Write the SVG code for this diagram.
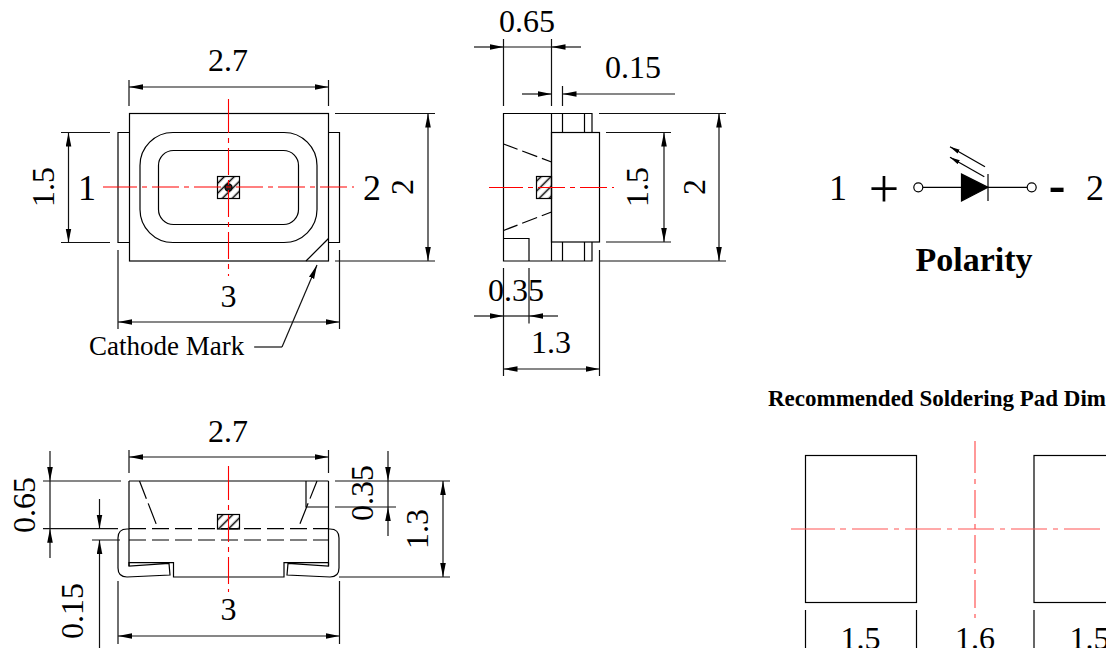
<svg xmlns="http://www.w3.org/2000/svg" width="1106" height="648" viewBox="0 0 1106 648">
<style>
text{font-family:"Liberation Serif","Times New Roman",serif;fill:#000}
.d{font-size:32px;text-anchor:middle}
.n{font-size:36px;text-anchor:middle}
.b{font-weight:bold;text-anchor:middle}
line,path,rect,circle{fill:none;stroke:#000;stroke-width:1.2}
.dim line,.dim path{stroke:#111;stroke-width:1.2}
.a{marker-end:url(#ar)}
.s{marker-end:url(#sm)}
.ds{stroke-dasharray:17 6}
.r{stroke:#f00;stroke-width:1.1;stroke-dasharray:34 5 5 5 27 5 5 5 27 5 5 5 27 5 5 5 27 5 5 5 27 5 5 5 27 5 5 5}
.rp{stroke:#f55;stroke-width:1.2;stroke-dasharray:44 5 6 6 36 6 5 6 36 6 5 6 36 6 5 6 36 6 5 6 36 6 5 6 36 6 5 6}
.h{fill:url(#hat)}
.head{fill:#000;stroke:none}
.hl{stroke-width:1.5}
</style>
<defs>
<pattern id="hat" patternUnits="userSpaceOnUse" width="7" height="7" patternTransform="rotate(-45)"><line class="hl" x1="0" y1="3.5" x2="7" y2="3.5"/></pattern>
<marker id="ar" markerUnits="userSpaceOnUse" markerWidth="15" markerHeight="7" refX="14" refY="3" orient="auto"><path class="head" d="M0 0.2L14 3L0 5.8Z"/></marker>
<marker id="sm" markerUnits="userSpaceOnUse" markerWidth="11" markerHeight="7" refX="10" refY="3" orient="auto"><path class="head" d="M0 0.8L10 3L0 5.2Z"/></marker>
</defs>

<g id="top-view">
<rect x="129.5" y="113.5" width="199" height="147.5"/>
<path d="M129 132.5H118V242.5H129M328.5 132.5H339.5V242.5H328.5"/>
<rect x="140" y="132.5" width="177" height="110" rx="33"/>
<rect x="158.5" y="150.5" width="140" height="74" rx="15"/>
<rect class="h" x="217.5" y="176.5" width="22" height="22"/>
<circle cx="228.5" cy="187.5" r="3.6" style="fill:#222"/>
<line x1="306" y1="261" x2="328.5" y2="238.5"/>
<line class="r" x1="103" y1="187" x2="354" y2="187"/>
<line class="r" x1="228.5" y1="99" x2="228.5" y2="276"/>
<text class="n" x="87" y="200">1</text>
<text class="n" x="372" y="200">2</text>
<text class="d" x="228.5" y="307">3</text>
<text x="89" y="355" style="font-size:27px">Cathode Mark</text>
</g>

<g id="side-view">
<path d="M551.5 113.5H503.5V261H592V242M592 132V113.5H551.5V261"/>
<rect x="551.5" y="132.5" width="48" height="109.5"/>
<path d="M562.5 113.5V132M584.5 113.5V132M562.5 242V261M584.5 242V261M503.5 238.5H529V261"/>
<line x1="503.5" y1="144" x2="551.5" y2="162" stroke-dasharray="15 5 16 5 12 6"/>
<line x1="503.5" y1="230.5" x2="551.5" y2="212" stroke-dasharray="15 5 16 5 12 6"/>
<rect class="h" x="536.5" y="176.5" width="15" height="22"/>
<line class="r" x1="489" y1="187.5" x2="614" y2="187.5"/>
</g>

<g id="bottom-view">
<path d="M129 481H328.5M129 481V566M328.5 481V566"/>
<path d="M129 529H127Q118 529 118 538V568Q118 577 127 577L170 575L169 563.5L129 566V562.7H173.5V577H284V562.7H328.5V566L288 563.5L287 575L330 577Q339 577 339 568V538Q339 529 330 529H328.5"/>
<path d="M306 481V507H328.5"/>
<line class="ds" x1="129" y1="528.7" x2="328" y2="528.7"/>
<line class="ds" x1="129" y1="540" x2="328" y2="540"/>
<line x1="139.5" y1="481" x2="158" y2="528.7" stroke-dasharray="19 5 22"/>
<line x1="317" y1="481" x2="298" y2="528.7" stroke-dasharray="19 5 22"/>
<rect class="h" x="217.5" y="514.5" width="22" height="14.5"/>
<line class="r" x1="228.5" y1="466" x2="228.5" y2="592"/>
</g>

<g id="polarity">
<text class="n" x="838" y="200">1</text>
<text x="884" y="207" style="font-size:54px;text-anchor:middle">+</text>
<circle cx="918.3" cy="187.3" r="4.5"/>
<line x1="923" y1="187.3" x2="1027" y2="187.3"/>
<path d="M961.5 174L961.5 201L988 187.3Z" style="fill:#000"/>
<line x1="988" y1="174" x2="988" y2="201"/>
<circle cx="1031.7" cy="187.3" r="4.5"/>
<line class="s" x1="985" y1="166.7" x2="950" y2="146.7"/>
<line class="s" x1="984.3" y1="176.7" x2="950" y2="157.3"/>
<text x="1057" y="202" style="font-size:50px;font-weight:bold;text-anchor:middle">-</text>
<text class="n" x="1095" y="200">2</text>
<text class="b" x="974" y="271" style="font-size:34px">Polarity</text>
</g>

<g id="pad">
<text x="768" y="405.5" style="font-size:23px;font-weight:bold">Recommended Soldering Pad Dim</text>
<rect x="805.5" y="455.5" width="111" height="147"/>
<rect x="1034" y="455.5" width="111" height="147"/>
<line class="rp" x1="791" y1="529" x2="1106" y2="529"/>
<line class="rp" x1="975" y1="441" x2="975" y2="618" style="stroke-dasharray:32 6 5 6 28 6 5 6 28 6 5 6 28 6 5 6"/>
<line x1="805.5" y1="610" x2="805.5" y2="648"/>
<line x1="916.5" y1="610" x2="916.5" y2="648"/>
<line x1="1034" y1="610" x2="1034" y2="648"/>
<text class="d" x="860.5" y="649">1.5</text>
<text class="d" x="975" y="649">1.6</text>
<text class="d" x="1089.5" y="649">1.5</text>
</g>

<g id="connectors" class="dim">
<path d="M129 80V106M328.5 80V106M61 132.5H110M61 242.5H110M335 113.5H435M335 261H435M118 250V329M339.5 250V329"/>
<line class="a" x1="228" y1="87" x2="129" y2="87"/><line class="a" x1="228" y1="87" x2="328.5" y2="87"/>
<line class="a" x1="68.5" y1="187" x2="68.5" y2="132.5"/><line class="a" x1="68.5" y1="187" x2="68.5" y2="242.5"/>
<line class="a" x1="428" y1="187" x2="428" y2="113.5"/><line class="a" x1="428" y1="187" x2="428" y2="261"/>
<line class="a" x1="228" y1="322" x2="118" y2="322"/><line class="a" x1="228" y1="322" x2="339.5" y2="322"/>
<path d="M254 347H282"/><line class="a" x1="282" y1="347" x2="317" y2="265"/>
<path d="M503.5 39V106M551.5 39V106M562.5 86V106M599 113.5H726M606 132.5H671M606 242H671M599.5 250V376M503.5 268V376M529 268V323.5M599 261H726"/>
<line class="a" x1="474" y1="47" x2="503.5" y2="47"/><line class="a" x1="581" y1="47" x2="551.5" y2="47"/><line x1="503.5" y1="47" x2="551.5" y2="47"/>
<line class="a" x1="522" y1="94" x2="551.5" y2="94"/><line class="a" x1="675" y1="94" x2="562.5" y2="94"/>
<line class="a" x1="719" y1="187" x2="719" y2="113.5"/><line class="a" x1="719" y1="187" x2="719" y2="261"/>
<line class="a" x1="664" y1="187" x2="664" y2="132.5"/><line class="a" x1="664" y1="187" x2="664" y2="242"/>
<line class="a" x1="474" y1="316" x2="503.5" y2="316"/><line class="a" x1="558" y1="316" x2="529" y2="316"/><line x1="503.5" y1="316" x2="529" y2="316"/>
<line class="a" x1="551" y1="369" x2="503.5" y2="369"/><line class="a" x1="551" y1="369" x2="599.5" y2="369"/>
<path d="M129 450V473M328.5 450V473M43 481H121M43 528.7H118M92 540H120M92 528.7H118M335 481H450M335 507H396M339 577H450M118 581V644M339.5 581V644"/>
<line class="a" x1="228" y1="457" x2="129" y2="457"/><line class="a" x1="228" y1="457" x2="328.5" y2="457"/>
<line class="a" x1="50" y1="451" x2="50" y2="481"/><line class="a" x1="50" y1="558" x2="50" y2="528.7"/><line x1="50" y1="481" x2="50" y2="528.7"/>
<line class="a" x1="99.5" y1="499" x2="99.5" y2="528.7"/><line class="a" x1="99.5" y1="648" x2="99.5" y2="540"/>
<line class="a" x1="388" y1="451" x2="388" y2="481"/><line class="a" x1="388" y1="536" x2="388" y2="507"/><line x1="388" y1="481" x2="388" y2="507"/>
<line class="a" x1="443" y1="529" x2="443" y2="481"/><line class="a" x1="443" y1="529" x2="443" y2="577"/>
<line class="a" x1="228" y1="636" x2="118" y2="636"/><line class="a" x1="228" y1="636" x2="339.5" y2="636"/>
</g>

<g id="dimension-labels">
<text class="d" x="228" y="71">2.7</text>
<text class="d" transform="translate(54 187)rotate(-90)">1.5</text>
<text class="d" transform="translate(413 187)rotate(-90)">2</text>
<text class="d" x="527" y="32">0.65</text>
<text class="d" x="633" y="78">0.15</text>
<text class="d" transform="translate(648 187)rotate(-90)">1.5</text>
<text class="d" transform="translate(705 187)rotate(-90)">2</text>
<text class="d" x="516" y="301">0.35</text>
<text class="d" x="551" y="353">1.3</text>
<text class="d" x="228" y="442">2.7</text>
<text class="d" transform="translate(35 505)rotate(-90)">0.65</text>
<text class="d" transform="translate(83 611)rotate(-90)">0.15</text>
<text class="d" transform="translate(373 493)rotate(-90)">0.35</text>
<text class="d" transform="translate(428 529)rotate(-90)">1.3</text>
<text class="d" x="228.5" y="620">3</text>
</g>
</svg>
